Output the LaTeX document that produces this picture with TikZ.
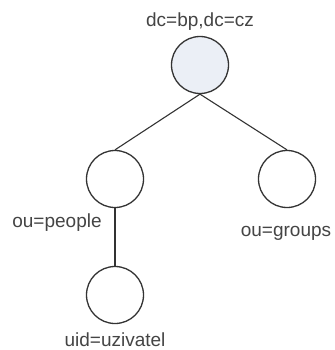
\documentclass[tikz,border=0pt]{standalone}
\usepackage{fontspec}
\setmainfont{Liberation Sans}
\definecolor{rootfill}{HTML}{EBEFF6}
\definecolor{linec}{HTML}{333333}
\definecolor{textc}{HTML}{444444}
\begin{document}
\begin{tikzpicture}[x=1pt,y=-1pt,
  entry/.style={circle,draw=linec,line width=1.3pt,minimum size=57pt,inner sep=0pt},
  lbl/.style={text=textc,font=\fontsize{19}{22}\selectfont,inner sep=0pt},
  link/.style={draw=linec,line width=1.1pt}]
\useasboundingbox (0,0) rectangle (334,350);
\node[entry,fill=rootfill] (root) at (200,65) {};
\node[entry] (people) at (115,179) {};
\node[entry] (groups) at (287,179) {};
\node[entry] (user) at (115,295) {};
\node[lbl] (lroot) at (200,22) {dc=bp,dc=cz};
\node[lbl] (lpeople) at (57,223) {ou=people};
\node[lbl] (lgroups) at (286,233) {ou=groups};
\node[lbl] (luser) at (115,340) {uid=uzivatel};
\draw[link] (root.south) -- (people.north);
\draw[link] (root.south) -- (groups.north);
\draw[link] (people.south) -- (user.north);
\end{tikzpicture}
\end{document}
